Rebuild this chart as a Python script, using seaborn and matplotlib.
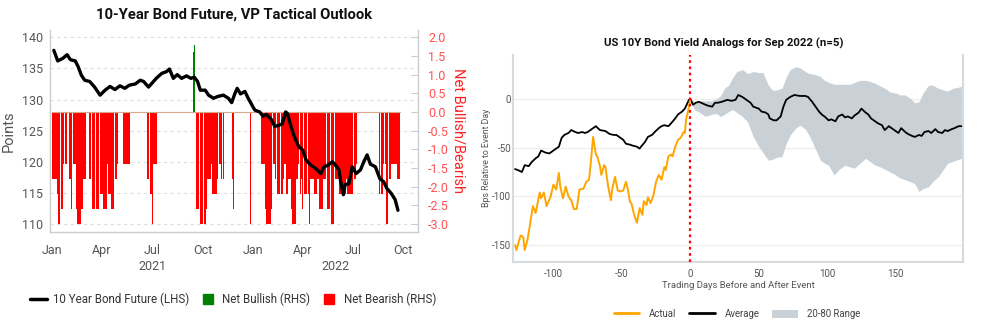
import pandas as pd
import matplotlib
matplotlib.use("Agg")
import matplotlib.pyplot as plt
import matplotlib.dates as mdates
import matplotlib.transforms as mtransforms
from matplotlib.lines import Line2D
from matplotlib.patches import Patch
import seaborn as sns

sns.set_theme(style="white")
plt.rcParams["font.family"] = ["Roboto", "DejaVu Sans"]
plt.rcParams["axes.unicode_minus"] = False

# ---------------- left panel: bond future price and tactical signal ----------------
price_dates = [
    "2021-01-04", "2021-01-11", "2021-01-20", "2021-01-28", "2021-02-03", "2021-02-12",
    "2021-02-17", "2021-02-23", "2021-03-01", "2021-03-10", "2021-03-19", "2021-03-29",
    "2021-04-07", "2021-04-16", "2021-04-25", "2021-05-04", "2021-05-13", "2021-05-21",
    "2021-06-01", "2021-06-10", "2021-06-16", "2021-06-25", "2021-07-02", "2021-07-09",
    "2021-07-19", "2021-07-28", "2021-08-02", "2021-08-09", "2021-08-16", "2021-08-24",
    "2021-09-02", "2021-09-10", "2021-09-16", "2021-09-22", "2021-09-27", "2021-10-06",
    "2021-10-12", "2021-10-21", "2021-10-29", "2021-11-08", "2021-11-17", "2021-11-23",
    "2021-11-29", "2021-12-03", "2021-12-09", "2021-12-17", "2021-12-23", "2022-01-04",
    "2022-01-13", "2022-01-19", "2022-01-25", "2022-02-03", "2022-02-09", "2022-02-15",
    "2022-02-23", "2022-03-01", "2022-03-04", "2022-03-11", "2022-03-17", "2022-03-25",
    "2022-04-01", "2022-04-07", "2022-04-15", "2022-04-25", "2022-05-04", "2022-05-10",
    "2022-05-16", "2022-05-25", "2022-05-31", "2022-06-06", "2022-06-09", "2022-06-14",
    "2022-06-17", "2022-06-24", "2022-06-30", "2022-07-07", "2022-07-15", "2022-07-21",
    "2022-07-27", "2022-08-02", "2022-08-11", "2022-08-19", "2022-08-26", "2022-09-01",
    "2022-09-09", "2022-09-16", "2022-09-21",
]
price_values = [
    137.9, 136.2, 136.6, 137.2, 136.4, 136.2,
    135.3, 133.9, 133.1, 132.9, 132.0, 130.7,
    131.5, 132.1, 131.6, 132.2, 131.8, 132.3,
    132.5, 133.1, 132.9, 132.0, 132.7, 133.4,
    134.2, 134.5, 134.9, 133.4, 134.0, 133.4,
    133.8, 133.4, 133.6, 132.9, 131.5, 131.5,
    130.7, 130.2, 130.5, 130.7, 130.2, 129.5,
    131.0, 131.8, 130.9, 131.3, 130.2, 128.3,
    128.0, 127.3, 127.6, 126.8, 125.7, 125.8,
    126.1, 128.0, 127.8, 125.6, 124.0, 122.4,
    121.9, 120.3, 119.5, 118.9, 118.1, 119.2,
    119.4, 120.0, 119.4, 118.7, 116.8, 114.7,
    116.3, 116.5, 119.2, 118.1, 118.7, 120.0,
    121.1, 119.6, 119.2, 117.3, 116.8, 115.7,
    114.9, 113.9, 112.2,
]

# signal runs: first day, day after last, signal level
sig_start = [
    "2021-01-01", "2021-01-09", "2021-01-12", "2021-01-18", "2021-01-21",
    "2021-02-01", "2021-02-05", "2021-02-08", "2021-02-13", "2021-02-17", "2021-02-23", "2021-02-26",
    "2021-03-09", "2021-03-13", "2021-03-27", "2021-03-30", "2021-04-05", "2021-04-10", "2021-04-14",
    "2021-04-18", "2021-04-23", "2021-04-28",
    "2021-05-10", "2021-05-15", "2021-05-17",
    "2021-06-23", "2021-06-26", "2021-07-02", "2021-07-04",
    "2021-09-14", "2021-09-16",
    "2021-09-21", "2021-09-26", "2021-10-07", "2021-10-11", "2021-10-16", "2021-10-19", "2021-10-27",
    "2021-10-31", "2021-11-05", "2021-11-24", "2021-11-26", "2021-12-27",
    "2022-01-17", "2022-01-22", "2022-01-25", "2022-02-02", "2022-02-06", "2022-02-11", "2022-02-15",
    "2022-02-18", "2022-02-21", "2022-02-24", "2022-02-27", "2022-03-02", "2022-03-05", "2022-03-11",
    "2022-03-14", "2022-03-20", "2022-03-23", "2022-03-26", "2022-03-29", "2022-04-01", "2022-04-04",
    "2022-04-13", "2022-04-15", "2022-04-22", "2022-04-27", "2022-05-01", "2022-05-07", "2022-05-17",
    "2022-05-21", "2022-05-29", "2022-06-07", "2022-06-18", "2022-06-22", "2022-07-04", "2022-07-07",
    "2022-08-18", "2022-08-24", "2022-09-01", "2022-09-05", "2022-09-09", "2022-09-21",
]
sig_end = [
    "2021-01-09", "2021-01-12", "2021-01-18", "2021-01-21", "2021-01-28",
    "2021-02-05", "2021-02-08", "2021-02-13", "2021-02-17", "2021-02-23", "2021-02-26", "2021-03-03",
    "2021-03-13", "2021-03-27", "2021-03-30", "2021-04-05", "2021-04-10", "2021-04-14", "2021-04-18",
    "2021-04-23", "2021-04-28", "2021-05-03",
    "2021-05-15", "2021-05-17", "2021-05-22",
    "2021-06-26", "2021-07-02", "2021-07-04", "2021-07-10",
    "2021-09-16", "2021-09-17",
    "2021-09-26", "2021-10-07", "2021-10-11", "2021-10-16", "2021-10-19", "2021-10-27", "2021-10-31",
    "2021-11-05", "2021-11-09", "2021-11-25", "2021-11-27", "2021-12-28",
    "2022-01-22", "2022-01-25", "2022-02-02", "2022-02-06", "2022-02-11", "2022-02-15", "2022-02-18",
    "2022-02-21", "2022-02-24", "2022-02-27", "2022-03-02", "2022-03-05", "2022-03-11", "2022-03-14",
    "2022-03-20", "2022-03-23", "2022-03-26", "2022-03-29", "2022-04-01", "2022-04-04", "2022-04-13",
    "2022-04-15", "2022-04-22", "2022-04-27", "2022-05-01", "2022-05-07", "2022-05-17", "2022-05-21",
    "2022-05-29", "2022-06-07", "2022-06-18", "2022-06-22", "2022-07-04", "2022-07-07", "2022-07-11",
    "2022-08-24", "2022-09-01", "2022-09-05", "2022-09-09", "2022-09-21", "2022-09-24",
]
sig_level = [
    -1.8, -2.2, -3.0, -2.6, -1.4,
    -1.8, -2.6, -1.4, -2.6, -3.0, -2.6, -1.8,
    -1.8, -2.6, -1.8, -2.2, -2.6, -1.4, -2.2,
    -2.6, -1.8, -1.4,
    -1.4, -2.6, -1.4,
    -1.8, -2.2, -3.0, -1.4,
    1.6, 1.8,
    -2.6, -3.0, -2.6, -1.8, -1.4, -2.2, -1.8,
    -1.4, -1.8, -1.8, -2.6, -3.0,
    -1.4, -2.6, -3.0, -2.6, -1.4, -1.8, -2.2,
    -1.4, -2.2, -1.8, -1.4, -2.2, -1.8, -2.6,
    -3.0, -1.8, -1.4, -2.2, -1.8, -2.6, -2.2,
    -3.0, -1.8, -2.2, -1.8, -2.6, -1.8, -2.6,
    -3.0, -1.8, -2.2, -1.8, -2.2, -1.8, -1.4,
    -2.2, -1.4, -3.0, -1.8, -1.4, -1.8,
]

price_ticks = [110, 115, 120, 125, 130, 135, 140]
signal_ticks = [-3.0, -2.5, -2.0, -1.5, -1.0, -0.5, 0.0, 0.5, 1.0, 1.5, 2.0]
price_at_zero_signal = 128.0
points_per_signal = 6.0

# ---------------- right panel: yield analogs ----------------
act_days = [-128, -127, -124, -122, -121, -119, -117, -115, -113, -110,
            -109, -107, -105, -102, -100, -98, -96, -95, -93, -91,
            -89, -87, -85, -83, -81, -78, -76, -74, -73, -71,
            -69, -68, -66, -65, -63, -62, -60, -58, -57, -55,
            -53, -51, -49, -47, -46, -44, -43, -41, -39, -37,
            -35, -34, -32, -31, -29, -27, -25, -23, -21, -19,
            -18, -16, -14, -13, -11, -9, -7, -5, -4, -3,
            -2, -1, 0]
act_bps = [-150, -155, -140, -142, -155, -145, -128, -110, -117, -96,
           -102, -96, -110, -100, -88, -93, -76, -90, -102, -90,
           -100, -104, -113, -113, -93, -92, -85, -83, -70, -39,
           -57, -59, -69, -78, -68, -70, -90, -104, -92, -80,
           -94, -95, -94, -85, -90, -106, -107, -119, -127, -112,
           -119, -105, -109, -101, -107, -99, -85, -78, -83, -70,
           -73, -59, -57, -59, -49, -42, -40, -34, -35, -20,
           -15, -8, 0]

avg_days = [-128, -126, -123, -121, -118, -116, -113, -111, -109, -106,
            -103, -99, -96, -94, -92, -89, -87, -84, -82, -79,
            -77, -75, -72, -69, -66, -62, -59, -56, -54, -51,
            -49, -47, -44, -42, -39, -37, -36, -33, -31, -28,
            -26, -23, -21, -19, -16, -14, -11, -9, -6, -4,
            -2, -1, 0, 1, 2, 4, 6, 8, 11, 13,
            16, 18, 20, 23, 27, 30, 33, 35, 38, 41,
            44, 46, 50, 52, 55, 57, 58, 61, 63, 66,
            68, 70, 73, 76, 80, 84, 86, 89, 91, 94,
            96, 98, 101, 103, 106, 108, 111, 113, 115, 118,
            120, 123, 125, 128, 130, 132, 135, 137, 140, 142,
            145, 147, 150, 152, 154, 157, 159, 162, 164, 167,
            169, 171, 174, 176, 179, 181, 184, 186, 188, 191,
            193, 196, 198]
avg_bps = [-72, -73, -75, -68, -69, -65, -61, -59, -53, -55,
           -56, -52, -49, -40, -37, -35, -32, -34, -35, -34,
           -35, -34, -31, -28, -32, -33, -36, -37, -37, -40,
           -42, -46, -47, -48, -49, -51, -49, -44, -39, -37,
           -34, -30, -28, -27, -28, -25, -20, -16, -13, -10,
           -4, -1, 0, -3, -6, -4, -3, -4, -6, -7,
           -8, -4, -4, -3, -1, -2, -1, 4, 2, -1,
           -4, -8, -10, -13, -14, -16, -20, -22, -22, -18,
           -8, -1, 2, 4, 3, 3, 2, -3, -7, -13,
           -16, -18, -22, -21, -23, -18, -16, -19, -18, -20,
           -17, -14, -10, -14, -16, -20, -23, -25, -27, -32,
           -28, -30, -33, -35, -30, -34, -36, -38, -39, -37,
           -38, -34, -33, -35, -31, -34, -35, -32, -33, -31,
           -30, -28, -28]

range_days = [0, 3, 7, 11, 15, 19, 22, 25, 28, 31, 34, 38, 42, 46, 50, 53, 57, 60, 63, 67,
              70, 73, 77, 80, 84, 87, 91, 95, 98, 101, 105, 109, 113, 117, 120, 124, 128, 131,
              135, 139, 142, 146, 150, 153, 157, 161, 164, 167, 170, 174, 177, 181, 185, 188,
              192, 196, 198]
range_high = [0, -3, -2, -2, -2, 0, 3, 11, 14, 22, 28, 30, 26, 28, 27, 27, 14, 9, 9, 11,
              22, 30, 33, 32, 28, 26, 25, 23, 19, 17, 15, 15, 15, 15, 17, 19, 19, 18,
              16, 13, 11, 7, 6, 4, 4, 0, -4, -3, 6, 14, 14, 11, 9, 8,
              11, 12, 13]
range_low = [-3, -11, -14, -18, -16, -15, -18, -16, -13, -11, -14, -18, -24, -39, -49, -55, -63, -62, -60, -59,
             -46, -37, -30, -27, -31, -38, -50, -63, -66, -68, -78, -72, -68, -70, -71, -66, -61, -64,
             -68, -70, -72, -75, -78, -81, -83, -85, -87, -95, -92, -90, -85, -80, -72, -66,
             -64, -62, -61]

# ---------------- figure ----------------
W, H = 983, 327
fig = plt.figure(figsize=(W / 100, H / 100), dpi=100)

GRAY_TXT = "#555555"
SPINE = "#cccccc"

ax = fig.add_axes([50 / W, 1 - 231.7 / H, 368.3 / W, 201.7 / H])
ax2 = ax.twinx()
ax.set_zorder(ax2.get_zorder() + 1)
ax.patch.set_visible(False)

price_lo, price_hi = 108.76, 141.17
ax.set_ylim(price_lo, price_hi)
ax2.set_ylim((price_lo - price_at_zero_signal) / points_per_signal,
             (price_hi - price_at_zero_signal) / points_per_signal)
x_lo, x_hi = pd.Timestamp("2020-12-28"), pd.Timestamp("2022-10-28")
ax.set_xlim(x_lo, x_hi)

# expand signal runs onto business days
sig_rows = []
for s, e, lvl in zip(sig_start, sig_end, sig_level):
    for d in pd.bdate_range(pd.Timestamp(s), pd.Timestamp(e) - pd.Timedelta(days=1)):
        sig_rows.append((d, lvl))
sig = pd.DataFrame(sig_rows, columns=["date", "signal"])
bar_colors = ["#008000" if v > 0 else "#ff0000" for v in sig["signal"]]

for p in price_ticks:
    ax2.axhline((p - price_at_zero_signal) / points_per_signal, color="#dedede",
                lw=0.8, ls=(0, (3, 3)), zorder=0)
ax2.bar(sig["date"], sig["signal"], width=2.1, color=bar_colors, linewidth=0, zorder=2)
ax2.plot([pd.Timestamp(sig_start[0]), pd.Timestamp(sig_end[-1])], [0, 0],
         color="#d8a88c", lw=0.8, zorder=3)

price = pd.DataFrame({"date": pd.to_datetime(price_dates), "value": price_values})
sns.lineplot(data=price, x="date", y="value", ax=ax, color="black", lw=2.4, zorder=5)

ax.set_yticks(price_ticks)
ax2.set_yticks(signal_ticks)
ax2.set_yticklabels([f"{t:.1f}" for t in signal_ticks])
ax.xaxis.set_major_locator(mdates.MonthLocator(bymonth=[1, 4, 7, 10]))
ax.xaxis.set_major_formatter(mdates.DateFormatter("%b"))

ax.tick_params(axis="y", length=0, labelsize=9, labelcolor=GRAY_TXT, pad=5)
ax.tick_params(axis="x", length=4, width=0.8, color=SPINE, labelsize=9,
               labelcolor=GRAY_TXT, pad=5)
ax2.tick_params(axis="y", direction="in", length=5, width=0.8, color=SPINE,
                labelsize=9, labelcolor="#ff5050", pad=7)

ax.set_xlabel("")
ax.set_ylabel("Points", fontsize=10.5, color=GRAY_TXT, labelpad=4)
ax2.set_ylabel("Net Bullish/Bearish", fontsize=10.5, color="#ff2020",
               rotation=270, va="bottom", labelpad=2)

ax.spines["top"].set_visible(False)
for side in ["left", "bottom", "right"]:
    ax.spines[side].set_color(SPINE)
    ax.spines[side].set_linewidth(1.0)
for side in ax2.spines:
    ax2.spines[side].set_visible(False)

# year labels centred on each year's visible span
trans = mtransforms.blended_transform_factory(ax.transData, ax.transAxes)
for yr in [2021, 2022]:
    y0 = max(pd.Timestamp(f"{yr}-01-01"), x_lo)
    y1 = min(pd.Timestamp(f"{yr + 1}-01-01"), x_hi)
    mid = y0 + (y1 - y0) / 2
    ax.text(mdates.date2num(mid), -0.175, str(yr), transform=trans, ha="center",
            va="center", fontsize=9, color=GRAY_TXT)

fig.text(234 / W, 1 - 15 / H, "10-Year Bond Future, VP Tactical Outlook",
         ha="center", va="center", fontsize=10.6, fontweight="bold", color="#111111")

left_handles = [
    Line2D([], [], color="black", lw=2.5),
    Line2D([], [], color="#008000", marker="s", ls="none", markersize=7.5),
    Line2D([], [], color="#ff0000", marker="s", ls="none", markersize=7.5),
]
fig.legend(left_handles, ["10 Year Bond Future (LHS)", "Net Bullish (RHS)", "Net Bearish (RHS)"],
           loc="center", bbox_to_anchor=(233 / W, 1 - 299 / H), ncol=3, frameon=False,
           fontsize=8.3, handlelength=1.5, handletextpad=0.5, columnspacing=0.9,
           labelcolor="#333333")

# ---------------- right panel ----------------
axr = fig.add_axes([513.3 / W, 1 - 261.7 / H, 450 / W, 206.7 / H])
axr.set_axisbelow(True)
axr.yaxis.grid(True, color="#eeeeee", lw=0.9)
axr.fill_between(range_days, range_low, range_high, color="#c9d1d6", lw=0, zorder=1)
sns.lineplot(x=avg_days, y=avg_bps, ax=axr, color="black", lw=1.3, zorder=3)
sns.lineplot(x=act_days, y=act_bps, ax=axr, color="#ffa500", lw=1.4, zorder=4)
axr.axvline(0, color="#ff0000", lw=1.6, ls=(0, (1.2, 1.6)), zorder=5)

axr.set_xlim(-129.3, 199.4)
axr.set_ylim(-167, 45)
axr.set_xticks([-100, -50, 0, 50, 100, 150])
axr.set_yticks([-150, -100, -50, 0])
axr.tick_params(axis="x", length=3, width=0.8, color="#d6dbdf", labelsize=7,
                labelcolor=GRAY_TXT, pad=2.5)
axr.tick_params(axis="y", length=0, labelsize=7, labelcolor=GRAY_TXT, pad=1.5)
axr.spines["top"].set_visible(False)
for side in ["left", "bottom", "right"]:
    axr.spines[side].set_color("#d6dbdf")
    axr.spines[side].set_linewidth(1.5)

axr.set_xlabel("Trading Days Before and After Event", fontsize=6.8, color=GRAY_TXT)
axr.xaxis.set_label_coords(0.5, (261.7 - 285) / 206.7)
axr.xaxis.label.set_va("center")
axr.set_ylabel("Bps Relative to Event Day", fontsize=6.3, color=GRAY_TXT)
axr.yaxis.set_label_coords((486.7 - 513.3) / 450, 0.5)
axr.yaxis.label.set_va("center")

fig.text(724 / W, 1 - 43 / H, "US 10Y Bond Yield Analogs for Sep 2022 (n=5)",
         ha="center", va="center", fontsize=8.2, fontweight="bold", color="#111111")

right_handles = [
    Line2D([], [], color="#ffa500", lw=2),
    Line2D([], [], color="black", lw=2),
    Patch(facecolor="#c9d1d6", edgecolor="none"),
]
fig.legend(right_handles, ["Actual", "Average", "20-80 Range"], loc="center",
           bbox_to_anchor=(737 / W, 1 - 314 / H), ncol=3, frameon=False, fontsize=6.9,
           handlelength=2.7, handleheight=0.9, handletextpad=1.0, columnspacing=1.3,
           labelcolor="#444444")

fig.savefig("out.png", dpi=100)
